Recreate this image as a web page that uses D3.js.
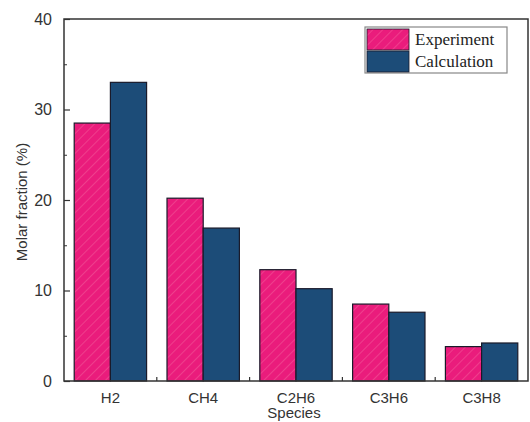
<!DOCTYPE html>
<html>
<head>
<meta charset="utf-8">
<script src="https://cdn.jsdelivr.net/npm/d3@7"></script>
<style>
  html, body { margin: 0; padding: 0; background: #fff; }
  svg { display: block; }
</style>
</head>
<body>
<svg id="chart" width="530" height="422"></svg>
<script>
// Molar fraction of gas species: experiment vs calculation
const species = ["H2", "CH4", "C2H6", "C3H6", "C3H8"];
const experiment = [28.5, 20.2, 12.3, 8.5, 3.8];
const calculation = [33.0, 16.9, 10.2, 7.6, 4.2];
const seriesNames = ["Experiment", "Calculation"];
const yTicks = [0, 10, 20, 30, 40];

const colors = ["#ea1c7c", "#1c4c78"];

const svg = d3.select("#chart");
const margin = { left: 64, right: 2, top: 19, bottom: 41 };
const W = 530, H = 422;
const x0 = margin.left, x1 = W - margin.right;
const y0 = H - margin.bottom, y1 = margin.top;

// hatch for the experiment bars
const defs = svg.append("defs");
const pat = defs.append("pattern")
  .attr("id", "hatch").attr("patternUnits", "userSpaceOnUse")
  .attr("width", 7).attr("height", 7)
  .attr("patternTransform", "rotate(45)");
pat.append("rect").attr("width", 7).attr("height", 7).attr("fill", colors[0]);
pat.append("line").attr("x1", 0).attr("y1", 0).attr("x2", 0).attr("y2", 7)
  .attr("stroke", "#f04a92").attr("stroke-width", 1.5);

const x = d3.scaleBand().domain(species).range([x0, x1]).paddingInner(0.22).paddingOuter(0.11);
const xs = d3.scaleBand().domain(seriesNames).range([0, x.bandwidth()]);
const y = d3.scaleLinear().domain([0, 40]).range([y0, y1]);

const rows = species.map((s, i) => ({ s, vals: [experiment[i], calculation[i]] }));

const g = svg.append("g");
rows.forEach(r => {
  r.vals.forEach((v, j) => {
    g.append("rect")
      .attr("x", x(r.s) + xs(seriesNames[j]))
      .attr("y", y(v))
      .attr("width", xs.bandwidth())
      .attr("height", y(0) - y(v))
      .attr("fill", j === 0 ? "url(#hatch)" : colors[1])
      .attr("stroke", "#1a1a2a").attr("stroke-width", 1.2);
  });
});

// frame
svg.append("rect").attr("x", x0).attr("y", y1).attr("width", x1 - x0).attr("height", y0 - y1)
  .attr("fill", "none").attr("stroke", "#333").attr("stroke-width", 1.5);

// y axis: major + minor ticks pointing inward
const yAxis = svg.append("g").attr("transform", `translate(${x0},0)`)
  .call(d3.axisLeft(y).tickValues(yTicks).tickSize(-6).tickPadding(12).tickFormat(d3.format("d")));
yAxis.select(".domain").remove();
yAxis.selectAll(".tick line").attr("stroke", "#333").attr("stroke-width", 1.2);
yAxis.selectAll(".tick text").attr("font-family", "Liberation Sans, Arial, sans-serif")
  .attr("font-size", 16).attr("fill", "#333");
const yMinor = svg.append("g").attr("transform", `translate(${x0},0)`)
  .call(d3.axisLeft(y).tickValues([5, 15, 25, 35]).tickSize(-3).tickFormat(""));
yMinor.select(".domain").remove();
yMinor.selectAll(".tick line").attr("stroke", "#333");

// x axis: labels at category centres, ticks at category boundaries
const xAxis = svg.append("g").attr("transform", `translate(0,${y0})`)
  .call(d3.axisBottom(x).tickSize(0).tickPadding(11));
xAxis.select(".domain").remove();
xAxis.selectAll(".tick text").attr("font-family", "Liberation Sans, Arial, sans-serif")
  .attr("font-size", 15).attr("fill", "#333");
const step = x.step();
const bounds = species.slice(0, -1).map(s => x(s) + x.bandwidth() + (step - x.bandwidth()) / 2);
svg.append("g").selectAll("line").data(bounds).join("line")
  .attr("x1", d => d).attr("x2", d => d).attr("y1", y0).attr("y2", y0 - 4)
  .attr("stroke", "#333").attr("stroke-width", 1.2);

// axis titles
svg.append("text").attr("x", (x0 + x1) / 2 - 2).attr("y", 418)
  .attr("text-anchor", "middle").attr("font-family", "Liberation Sans, Arial, sans-serif")
  .attr("font-size", 15).attr("fill", "#333").text("Species");
svg.append("text").attr("transform", `translate(27,${(y0 + y1) / 2 + 2}) rotate(-90)`)
  .attr("text-anchor", "middle").attr("font-family", "Liberation Sans, Arial, sans-serif")
  .attr("font-size", 15).attr("fill", "#333").text("Molar fraction (%)");

// legend
const lg = svg.append("g").attr("transform", "translate(365,27)");
lg.append("rect").attr("width", 142).attr("height", 46)
  .attr("fill", "#fff").attr("stroke", "#888").attr("stroke-width", 1.2);
seriesNames.forEach((n, i) => {
  lg.append("rect").attr("x", 2).attr("y", 2 + i * 22).attr("width", 42).attr("height", 21)
    .attr("fill", i === 0 ? "url(#hatch)" : colors[1]).attr("stroke", "#1a1a2a").attr("stroke-width", 0.8);
  lg.append("text").attr("x", 50).attr("y", 18 + i * 22)
    .attr("font-family", "Liberation Serif, Times New Roman, serif").attr("font-size", 17)
    .attr("fill", "#222").text(n);
});
</script>
</body>
</html>
